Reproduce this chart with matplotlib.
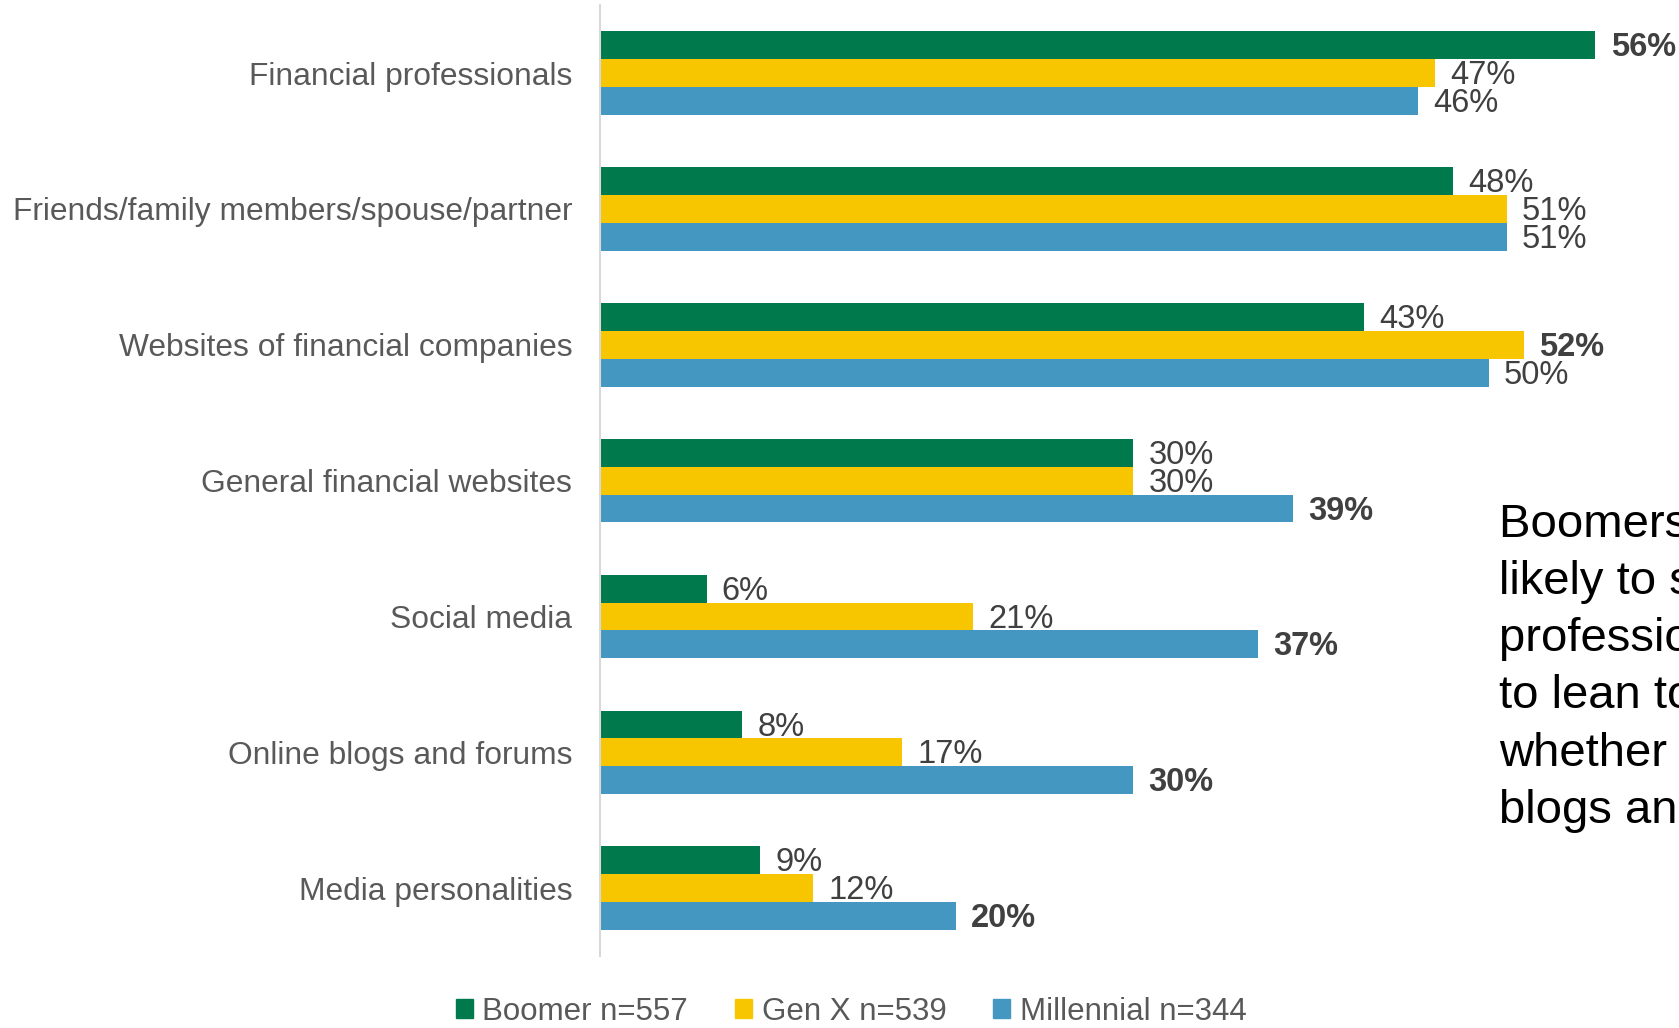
import numpy as np
import matplotlib.pyplot as plt
from matplotlib.patches import Patch

plt.rcParams['font.family'] = ['Liberation Sans', 'DejaVu Sans']

# data
categories = [
    "Financial professionals",
    "Friends/family members/spouse/partner",
    "Websites of financial companies",
    "General financial websites",
    "Social media",
    "Online blogs and forums",
    "Media personalities",
]
series_names = ["Boomer n=557", "Gen X n=539", "Millennial n=344"]
boomer = [56, 48, 43, 30, 6, 8, 9]
genx = [47, 51, 52, 30, 21, 17, 12]
millennial = [46, 51, 50, 39, 37, 30, 20]
# which label is highlighted (bold) in each group: index of series, or None
highlight = [0, None, 1, 2, 2, 2, 2]

colors = ["#007A4D", "#F7C600", "#4397C1"]
label_color = "#404040"
cat_color = "#595959"

fig = plt.figure(figsize=(16.79, 10.28), dpi=100)
ax = fig.add_axes([0.3574, 0.07, 0.6426, 0.925])

y = np.arange(len(categories))
h = 0.205
values = [boomer, genx, millennial]
for i, (vals, col) in enumerate(zip(values, colors)):
    pos = y + (i - 1) * h
    ax.barh(pos, vals, height=h, color=col, label=series_names[i])
    for j, (p, v) in enumerate(zip(pos, vals)):
        bold = highlight[j] == i
        ax.text(v + 0.85, p + 0.02, f"{v}%", va="center", ha="left",
                fontsize=23.5, color=label_color,
                fontweight="bold" if bold else "normal")

ax.set_ylim(len(categories) - 0.5, -0.5)
ax.set_xlim(0, 60.7)
ax.set_yticks(y)
ax.set_yticklabels(categories, fontsize=22.9, color=cat_color)
ax.tick_params(axis="y", length=0, pad=20)
ax.set_xticks([])
for s in ["top", "right", "bottom"]:
    ax.spines[s].set_visible(False)
ax.spines["left"].set_color("#D9D9D9")
ax.spines["left"].set_linewidth(1.5)

handles = [Patch(color=c) for c in colors]
fig.legend(handles, series_names, loc="center", bbox_to_anchor=(0.507, 0.0156),
           ncol=3, frameon=False, fontsize=22.5, labelcolor=cat_color,
           handlelength=0.55, handleheight=0.55, handletextpad=0.3,
           columnspacing=1.5)

fig.text(0.893, 0.511,
         "Boomers are more\nlikely to seek financial\nprofessionals, Millennials\n"
         "to lean toward online sources\nwhether social media or\nblogs and forums",
         fontsize=34, color="black", va="top", ha="left", linespacing=1.39)

plt.savefig("out.png", dpi=100)
